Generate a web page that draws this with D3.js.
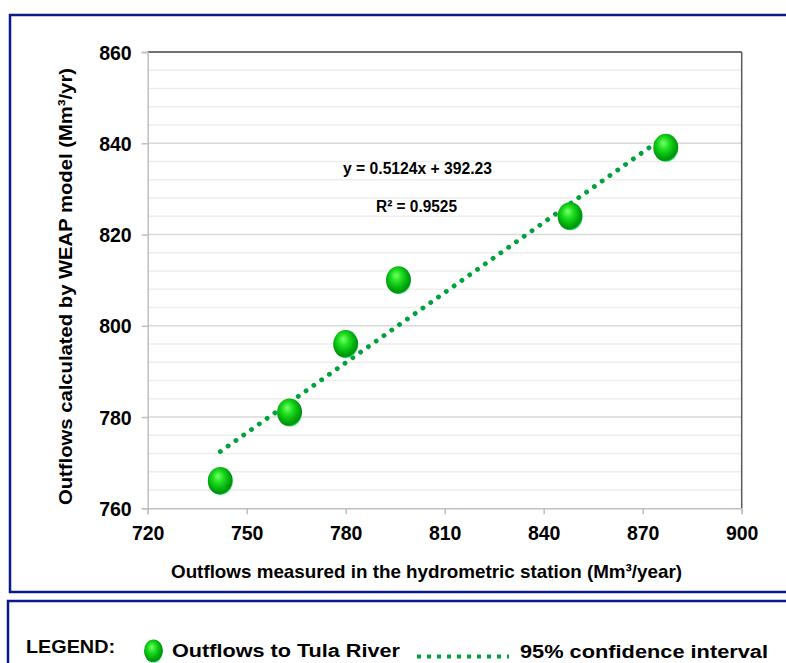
<!DOCTYPE html>
<html>
<head>
<meta charset="utf-8">
<script src="https://cdn.jsdelivr.net/npm/d3@7"></script>
<style>
  body { margin: 0; background: #fff; }
  text { font-family: "Liberation Sans", Arial, sans-serif; font-weight: bold; fill: #000; }
</style>
</head>
<body>
<div id="chart"></div>
<script>
(function() {
  var measured   = [742, 763, 780, 796, 848, 877];
  var calculated = [766, 781, 796, 810, 824, 839];
  var xTicks = [720, 750, 780, 810, 840, 870, 900];
  var yTicks = [760, 780, 800, 820, 840, 860];
  var trendSlope = 0.5124, trendIntercept = 392.23;
  var trendLabel = "y = 0.5124x + 392.23";
  var r2Label = "R² = 0.9525";

  var width = 786, height = 663,
      green = "#00a23c", navy = "#0a1a8c";

  var svg = d3.select("#chart").append("svg")
      .attr("width", width)
      .attr("height", height);

  // sphere look for the markers
  var grad = svg.append("defs").append("radialGradient")
      .attr("id", "ball")
      .attr("cx", "45%").attr("cy", "42%").attr("r", "58%")
      .attr("fx", "40%").attr("fy", "32%");
  grad.append("stop").attr("offset", "0%").attr("stop-color", "#7dff6e");
  grad.append("stop").attr("offset", "35%").attr("stop-color", "#22e222");
  grad.append("stop").attr("offset", "75%").attr("stop-color", "#00aa0c");
  grad.append("stop").attr("offset", "92%").attr("stop-color", "#008f10");
  grad.append("stop").attr("offset", "100%").attr("stop-color", "#19e35a");

  // outer boxes
  svg.append("rect").attr("x", 10).attr("y", 15).attr("width", 800).attr("height", 577)
      .attr("fill", "none").attr("stroke", navy).attr("stroke-width", 2.5);
  svg.append("rect").attr("x", 8).attr("y", 601).attr("width", 800).attr("height", 80)
      .attr("fill", "none").attr("stroke", navy).attr("stroke-width", 2.5);

  var x = d3.scaleLinear().domain([720, 900]).range([147.7, 741.7]);
  var y = d3.scaleLinear().domain([760, 860]).range([508.3, 52]);

  // gridlines: minor every 4, major every 20
  var minor = d3.range(760, 861, 4).filter(function(v) { return v % 20 !== 0; });
  svg.append("g").selectAll("line").data(minor).enter().append("line")
      .attr("x1", x(720)).attr("x2", x(900))
      .attr("y1", function(d) { return y(d); }).attr("y2", function(d) { return y(d); })
      .attr("stroke", "#ededed").attr("stroke-width", 1.5);
  svg.append("g").selectAll("line").data(yTicks.slice(1, -1)).enter().append("line")
      .attr("x1", x(720)).attr("x2", x(900))
      .attr("y1", function(d) { return y(d); }).attr("y2", function(d) { return y(d); })
      .attr("stroke", "#d9d9d9").attr("stroke-width", 1.5);

  // frame
  svg.append("line").attr("x1", x(720)).attr("x2", x(900)).attr("y1", y(860)).attr("y2", y(860))
      .attr("stroke", "#404040").attr("stroke-width", 1.5);
  svg.append("line").attr("x1", x(900)).attr("x2", x(900)).attr("y1", y(860)).attr("y2", y(760))
      .attr("stroke", "#595959").attr("stroke-width", 1.5);

  // axes
  var xAxis = svg.append("g").attr("transform", "translate(0," + y(760) + ")")
      .call(d3.axisBottom(x).tickValues(xTicks).tickSize(6).tickPadding(12));
  var yAxis = svg.append("g").attr("transform", "translate(" + x(720) + ",0)")
      .call(d3.axisLeft(y).tickValues(yTicks).tickSize(6).tickPadding(10));
  [xAxis, yAxis].forEach(function(a) {
    a.select(".domain").attr("stroke", "#bfbfbf").attr("stroke-width", 1.5);
    a.selectAll(".tick line").attr("stroke", "#bfbfbf").attr("stroke-width", 1.5);
    a.selectAll("text").style("font-size", "19.5px").style("font-weight", "bold")
      .style("font-family", "'Liberation Sans', Arial, sans-serif").attr("fill", "#000");
  });
  yAxis.selectAll("text").attr("dy", "0.36em");
  xAxis.selectAll("text").attr("dy", "0.72em");

  // trend line
  var xMin = d3.min(measured), xMax = d3.max(measured);
  svg.append("line")
      .attr("x1", x(xMin)).attr("y1", y(trendSlope * xMin + trendIntercept))
      .attr("x2", x(xMax)).attr("y2", y(trendSlope * xMax + trendIntercept))
      .attr("stroke", green).attr("stroke-width", 4.8)
      .attr("stroke-linecap", "round").attr("stroke-dasharray", "0.1 9.45");

  // points
  svg.append("g").selectAll("ellipse").data(measured).enter().append("ellipse")
      .attr("cx", function(d) { return x(d); })
      .attr("cy", function(d, i) { return y(calculated[i]); })
      .attr("rx", 12.5).attr("ry", 14)
      .attr("fill", "url(#ball)");

  // equation
  svg.append("text").attr("x", 343).attr("y", 174).attr("font-size", 16)
      .attr("textLength", 149).attr("lengthAdjust", "spacingAndGlyphs").text(trendLabel);
  svg.append("text").attr("x", 376).attr("y", 212).attr("font-size", 16)
      .attr("textLength", 81).attr("lengthAdjust", "spacingAndGlyphs").text(r2Label);

  // axis titles
  svg.append("text").attr("x", 171).attr("y", 578).attr("font-size", 19)
      .attr("textLength", 511).attr("lengthAdjust", "spacingAndGlyphs")
      .text("Outflows measured in the hydrometric station (Mm³/year)");

  svg.append("text").attr("transform", "translate(72,505) rotate(-90)").attr("font-size", 19)
      .attr("textLength", 437).attr("lengthAdjust", "spacingAndGlyphs")
      .text("Outflows calculated by WEAP model (Mm³/yr)");

  // legend
  svg.append("text").attr("x", 26).attr("y", 653).attr("font-size", 18)
      .attr("textLength", 89).attr("lengthAdjust", "spacingAndGlyphs").text("LEGEND:");
  svg.append("ellipse").attr("cx", 153.5).attr("cy", 651).attr("rx", 9.5).attr("ry", 11.5)
      .attr("fill", "url(#ball)");
  svg.append("text").attr("x", 172).attr("y", 657).attr("font-size", 18)
      .attr("textLength", 228).attr("lengthAdjust", "spacingAndGlyphs").text("Outflows to Tula River");
  svg.append("line").attr("x1", 417).attr("x2", 509).attr("y1", 656.5).attr("y2", 656.5)
      .attr("stroke", green).attr("stroke-width", 4).attr("stroke-dasharray", "4 6");
  svg.append("text").attr("x", 520).attr("y", 658).attr("font-size", 18)
      .attr("textLength", 248).attr("lengthAdjust", "spacingAndGlyphs").text("95% confidence interval");
})();
</script>
</body>
</html>
